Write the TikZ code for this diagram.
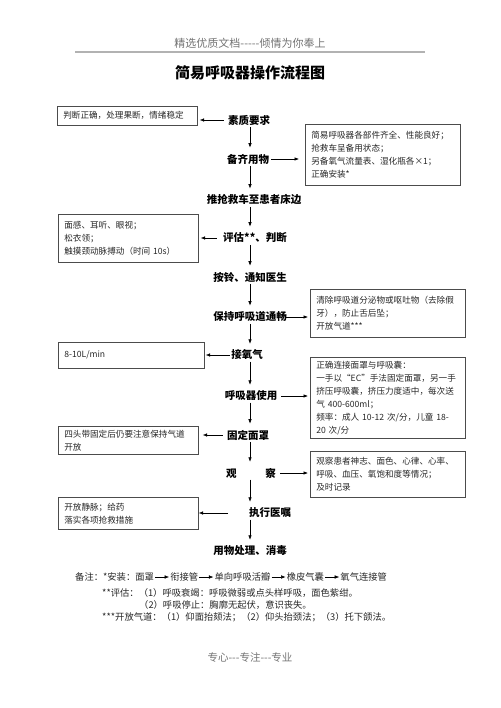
\documentclass[tikz,border=0pt]{standalone}
\usepackage{fontspec}
\setmainfont{Noto Sans CJK SC}
\usetikzlibrary{arrows.meta,positioning}

\tikzset{
  stage/.style={font=\fontsize{10.5}{12}\selectfont\bfseries, inner sep=1pt},
  notebox/.style={draw=black!70, line width=0.6pt, anchor=north west,
    font=\fontsize{8.6}{13}\selectfont, text=black!85, align=left,
    inner xsep=6pt, inner ysep=2pt},
  leftnote/.style={notebox, text width=128pt},
  rightnote/.style={notebox, text width=143pt},
  flow/.style={line width=0.6pt, -{Latex[length=4.5pt,width=3.5pt]}},
  down/.style={flow, shorten <=0.5pt, shorten >=5pt},
  side/.style={flow, shorten <=3pt, shorten >=2pt},
  remark/.style={font=\fontsize{9.3}{10}\selectfont, text=black!85, inner sep=0pt, anchor=west},
}

\begin{document}
\begin{tikzpicture}[x=1pt, y=-1pt]
  \useasboundingbox (0,0) rectangle (500,708);
  % page header and footer
  \node[font=\fontsize{11}{12}\selectfont, text=black!55] (head) at (250,43) {精选优质文档{-}{-}{-}{-}{-}倾情为你奉上};
  \draw[black!30, line width=1.2pt] (75,52) -- (425,52);
  \node[font=\fontsize{15}{17}\selectfont\bfseries] (title) at (250,73) {简易呼吸器操作流程图};
  \node[font=\fontsize{10.5}{12}\selectfont, text=black!55] (foot) at (250,657) {专心{-}{-}{-}专注{-}{-}{-}专业};

  \coordinate (axis) at (250,0);

  % main steps
  \node[stage] (s1) at (249,120) {素质要求};
  \node[stage] (s2) at (248,159) {备齐用物};
  \node[stage] (s3) at (254,200) {推抢救车至患者床边};
  \node[stage] (s4) at (255,238) {评估**、判断};
  \node[stage] (s5) at (250,277) {按铃、通知医生};
  \node[stage] (s6) at (250,317) {保持呼吸道通畅};
  \node[stage] (s7) at (247,355) {接氧气};
  \node[stage] (s8) at (251,396) {呼吸器使用};
  \node[stage] (s9) at (248,435) {固定面罩};
  \node[stage] (s10) at (251,473) {观\hspace{29pt}察};
  \node[stage, anchor=west] (s11) at (248,513) {执行医嘱};
  \node[stage] (s12) at (250,551) {用物处理、消毒};

  % side boxes
  \node[leftnote, minimum height=19pt] (b1) at (57,106) {判断正确，处理果断，情绪稳定};
  \node[rightnote, minimum height=61pt] (b2) at (305,124)
    {简易呼吸器各部件齐全、性能良好；\\抢救车呈备用状态；\\另备氧气流量表、湿化瓶各×1；\\正确安装*};
  \node[leftnote, minimum height=48pt] (b3) at (58,214)
    {面感、耳听、眼视；\\松衣领；\\触摸颈动脉搏动（时间 10s）};
  \node[rightnote, minimum height=48pt] (b4) at (310,289)
    {清除呼吸道分泌物或呕吐物（去除假\\牙），防止舌后坠；\\开放气道***};
  \node[leftnote, text width=134pt, minimum height=26pt] (b5) at (58,342) {8-10L/min};
  \node[rightnote, minimum height=81pt] (b6) at (310,357)
    {正确连接面罩与呼吸囊：\\一手以“EC”手法固定面罩，另一手\\挤压呼吸囊，挤压力度适中，每次送\\气 400-600ml；\\频率：成人 10-12 次/分，儿童 18-\\20 次/分};
  \node[leftnote, minimum height=28pt] (b7) at (58,426) {四头带固定后仍要注意保持气道\\开放};
  \node[rightnote, minimum height=46pt] (b8) at (310,451)
    {观察患者神志、面色、心律、心率、\\呼吸、血压、氧饱和度等情况；\\及时记录};
  \node[leftnote, minimum height=32pt] (b9) at (58,497) {开放静脉；给药\\落实各项抢救措施};

  % downward flow
  \foreach \a/\b in {s1/s2,s2/s3,s3/s4,s4/s5,s5/s6,s6/s7,s7/s8,s8/s9,s9/s10,s10/s11,s11/s12}
    \draw[down] (\a.south -| axis) -- (\b.north -| axis);

  % arrows to the boxes
  \draw[side] (s1.west) -- (s1.west -| b1.east);
  \draw[side, shorten <=1pt, shorten >=6pt] (s2.east) -- (s2.east -| b2.west);
  \draw[side, shorten <=5pt] (s4.west) -- (s4.west -| b3.east);
  \draw[side, shorten <=-2pt] (s6.east) -- (s6.east -| b4.west);
  \draw[side, shorten <=0pt, shorten >=1pt] (s7.west) -- (s7.west -| b5.east);
  \draw[side] (s8.east) -- (s8.east -| b6.west);
  \draw[side, shorten >=4pt] (s9.west) -- (s9.west -| b7.east);
  \draw[side] (s10.east) -- (s10.east -| b8.west);
  \draw[side, shorten <=20pt, shorten >=0pt] (s11.west) -- (s11.west -| b9.east);

  % remarks
  \node[remark] (n1) at (75,577) {备注：*安装：面罩};
  \node[remark, right=16pt of n1] (n2) {衔接管};
  \node[remark, right=16pt of n2] (n3) {单向呼吸活瓣};
  \node[remark, right=16pt of n3] (n4) {橡皮气囊};
  \node[remark, right=16pt of n4] (n5) {氧气连接管};
  \foreach \a/\b in {n1/n2,n2/n3,n3/n4,n4/n5}
    \draw[flow, line width=0.5pt, shorten <=1pt, shorten >=1pt] (\a) -- (\b);
  \node[remark] (n6) at (102,593) {**评估：（1）呼吸衰竭：呼吸微弱或点头样呼吸，面色紫绀。};
  \node[remark] (n7) at (139,605) {（2）呼吸停止：胸廓无起伏，意识丧失。};
  \node[remark] (n8) at (102,617) {***开放气道：（1）仰面抬颏法；（2）仰头抬颈法；（3）托下颌法。};
\end{tikzpicture}
\end{document}
